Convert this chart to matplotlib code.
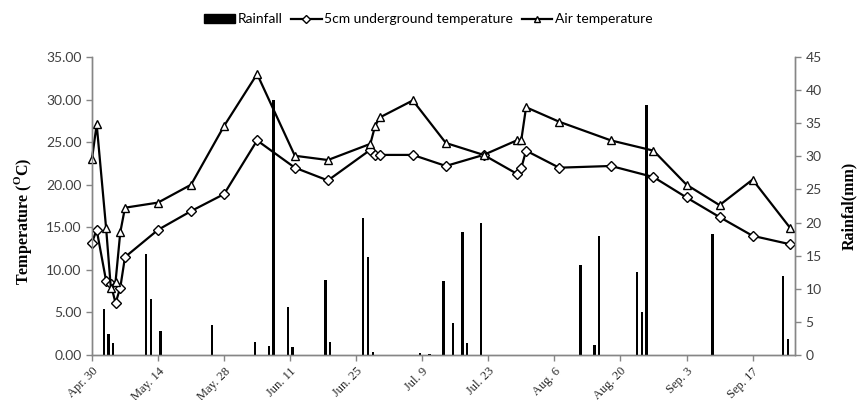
import matplotlib
matplotlib.use('Agg')
import matplotlib.pyplot as plt
from matplotlib.patches import Patch
from matplotlib.lines import Line2D
import numpy as np

# days counted from Apr. 30
temp_days = [0, 1, 3, 4, 5, 6, 7, 14, 21, 28, 35, 43, 50, 59, 60, 61, 68, 75,
             83, 90, 91, 92, 99, 110, 119, 126, 133, 140, 148]
soil_temp = [13.2, 14.7, 8.7, 8.3, 6.1, 7.9, 11.5, 14.7, 16.9, 18.9, 25.2, 22.0,
             20.5, 24.1, 23.5, 23.5, 23.5, 22.2, 23.5, 21.3, 22.0, 24.0, 22.0,
             22.2, 20.9, 18.5, 16.2, 14.0, 13.0]
air_temp = [23.0, 27.1, 14.9, 7.9, 8.6, 14.4, 17.3, 17.9, 20.0, 26.9, 33.0, 23.4,
            22.9, 24.8, 26.9, 27.9, 29.9, 24.9, 23.5, 25.2, 25.3, 29.1, 27.4,
            25.2, 24.0, 20.0, 17.6, 20.6, 14.9]

rain_days = [2, 3, 4, 11, 12, 14, 25, 34, 37, 38, 41, 42, 49, 50, 57, 58, 59, 69,
             71, 74, 76, 78, 79, 82, 103, 106, 107, 115, 116, 117, 131, 146, 147]
rainfall = [7.0, 3.2, 1.8, 15.3, 8.4, 3.6, 4.5, 2.0, 1.4, 38.5, 7.2, 1.2, 11.3,
            2.0, 20.7, 14.8, 0.5, 0.3, 0.2, 11.1, 4.9, 18.6, 1.8, 20.0, 13.6,
            1.5, 18.0, 12.5, 6.5, 37.7, 18.2, 12.0, 2.4]

tick_labels = ['Apr. 30', 'May. 14', 'May. 28', 'Jun. 11', 'Jun. 25', 'Jul. 9',
               'Jul. 23', 'Aug. 6', 'Aug. 20', 'Sep. 3', 'Sep. 17']

plt.rcParams['mathtext.fontset'] = 'custom'
plt.rcParams['mathtext.rm'] = 'Liberation Serif:bold'

sans = 'Lato'
serif = 'Liberation Serif'
grey = '#868686'
txt = '#404040'

fig = plt.figure(figsize=(8.57, 4.0), dpi=100)
ax = fig.add_axes([0.1073, 0.1125, 0.8204, 0.745])
ax2 = ax.twinx()

ax.plot(temp_days, soil_temp, color='black', lw=1.6, marker='D', ms=5,
        mfc='white', mec='black', mew=1.0, clip_on=False, zorder=3)
ax.plot(temp_days, air_temp, color='black', lw=1.6, marker='^', ms=5.5,
        mfc='white', mec='black', mew=1.0, clip_on=False, zorder=3)

# daily rain bars sit in the middle of each day
ax2.bar(np.array(rain_days) + 0.5, rainfall, width=0.5, color='black')

ax.set_xlim(0, 149)
ax.set_ylim(0, 35)
ax2.set_ylim(0, 45)

ax.set_yticks(np.arange(0, 36, 5))
ax.set_yticklabels(['%.2f' % v for v in np.arange(0, 36, 5)])
ax2.set_yticks(np.arange(0, 46, 5))
ax.set_xticks(np.arange(0, 141, 14))
ax.set_xticklabels(tick_labels, rotation=45, ha='right', rotation_mode='anchor',
                   fontsize=9, family=serif, color='#262626')

for a in (ax, ax2):
    a.spines['top'].set_visible(False)
    for s in ('left', 'right', 'bottom'):
        a.spines[s].set_color(grey)
        a.spines[s].set_linewidth(1.0)
    a.tick_params(colors=grey, length=4, width=1.0)
for lab in ax.get_yticklabels() + ax2.get_yticklabels():
    lab.set_family(sans)
    lab.set_fontsize(10)
    lab.set_color(txt)
for lab in ax.get_xticklabels():
    lab.set_color('#262626')

ax.set_ylabel('Temperature ($^{\\mathrm{O}}$C)', family=serif, fontweight='bold',
              fontsize=11.5, color='black')
ax.yaxis.set_label_coords(-0.083, 0.45)
ax2.set_ylabel('Rainfal(mm)', family=serif, fontweight='bold', fontsize=11.5,
               color='black')
ax2.yaxis.set_label_coords(1.066, 0.5)

handles = [Patch(facecolor='black', edgecolor='black'),
           Line2D([], [], color='black', lw=1.6, marker='D', ms=4, mfc='white', mec='black'),
           Line2D([], [], color='black', lw=1.6, marker='^', ms=4.5, mfc='white', mec='black')]
labels = ['Rainfall', '5cm underground temperature', 'Air temperature']
fig.legend(handles, labels, loc='center', bbox_to_anchor=(0.5, 0.952), ncol=3,
           frameon=False, prop={'family': sans, 'size': 10}, handlelength=2.2,
           handleheight=0.6, handletextpad=0.2, columnspacing=0.6)

fig.savefig('out.png', dpi=100)
